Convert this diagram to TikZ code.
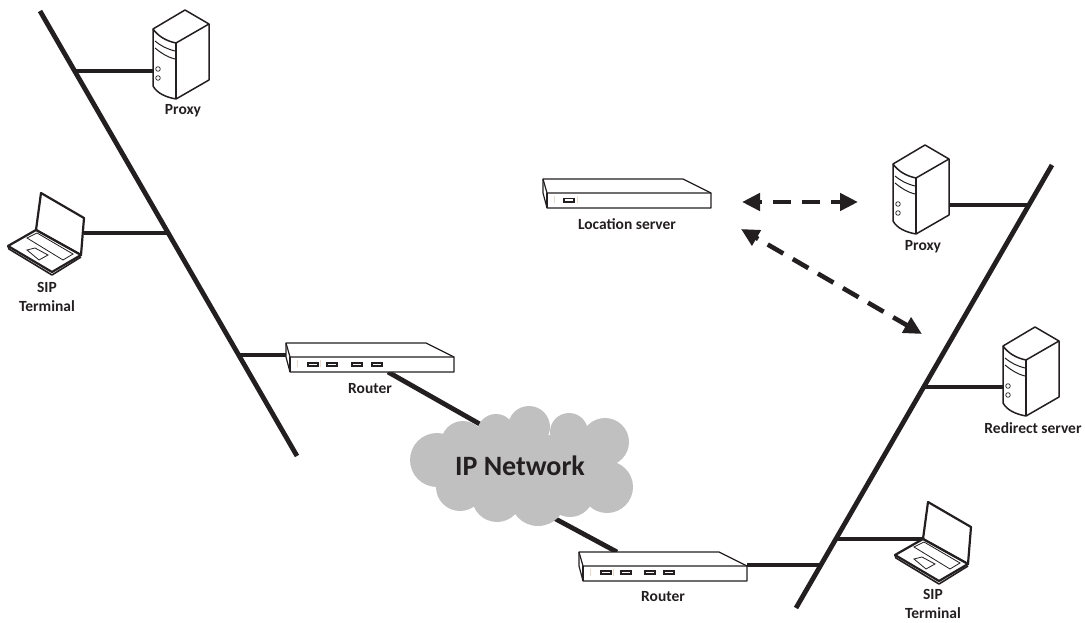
\documentclass[tikz,border=0pt]{standalone}
\usepackage{fontspec}
\setmainfont{Carlito}
\usetikzlibrary{arrows.meta}
\definecolor{ink}{HTML}{231F20}
\definecolor{cloudgray}{HTML}{C0C0C0}
\definecolor{tickpale}{HTML}{E8D8CC}
\tikzset{
  wire/.style={draw=ink,line width=4.8pt},
  link/.style={draw=ink,line width=4.6pt,dash pattern=on 18pt off 11pt,dash phase=15pt,{Triangle[length=18pt,width=17pt]}-{Triangle[length=18pt,width=17pt]}},
  tag/.style={font=\bfseries\fontsize{15.5}{19}\selectfont,text=ink,align=center,inner sep=0pt},
  server/.pic={
    \draw [ink,line width=1.5pt,line join=round,fill=white]
      (0,0) -- (32,-19) -- (56,-5) -- (56,51) -- (23,70)
      .. controls (12,68) and (4,64) .. (0,57) -- cycle;
    \draw [ink,line width=1.5pt] (0,0) .. controls (5,7) and (13,12) .. (23,14) -- (56,-5);
    \draw [ink,line width=1.5pt] (23,14) -- (23,70);
    \draw [ink,line width=1pt] (2,12) .. controls (8,17) and (14,20) .. (22,22);
    \draw [ink,line width=1pt] (2,19) .. controls (8,24) and (14,28) .. (22,30);
    \draw [ink,line width=.7pt] (5,40) circle [radius=2.3] (5,49) circle [radius=2.3];
  },
  laptop/.pic={
    \draw [ink,line width=2.2pt,line join=round,fill=white]
      (0,0) -- (5,-37) -- (48,-12) -- (45,25) -- cycle;
    \draw [ink,line width=2.2pt,line join=round,fill=white]
      (0,0) -- (-28,16) -- (16,42) -- (45,25) -- cycle;
    \draw [ink,line width=1.6pt,line join=round] (-28,16) -- (-27,19) -- (16,45) -- (45,27);
    \draw [ink,line width=.8pt] (-9,8) -- (1,3) -- (37,24) -- (27,30) -- cycle;
    \draw [ink,line width=.8pt] (-9,20) -- (-1,18) -- (12,25) -- (3,30) -- cycle;
  },
  rack/.pic={
    \draw [ink,line width=1.2pt,line join=round,fill=white]
      (0,0) -- (140,0) -- (168,14) -- (168,29) -- (4,29) -- (0,14) -- cycle;
    \draw [ink,line width=1.2pt] (0,0) -- (4,14) -- (168,14);
    \draw [ink,line width=1.2pt] (4,14) -- (4,29);
    \draw [tickpale,line width=.5pt] (11,17) -- (11,24) (34,17) -- (34,24);
  },
  port/.pic={
    \fill [ink] (0,0) rectangle (12,5);
    \fill [white] (2,1.5) rectangle (10,3.2);
  }
}
\begin{document}
\begin{tikzpicture}[x=1pt,y=-1pt]
  \useasboundingbox (0,0) rectangle (1085,623);

  % buses
  \coordinate (busLtop) at (40,11);
  \coordinate (busLend) at (297,456);
  \coordinate (busRtop) at (1052,165);
  \coordinate (busRend) at (796,608);
  \draw [wire] (busLtop) -- (busLend);
  \draw [wire] (busRtop) -- (busRend);

  % left side
  \coordinate (tapProxyL) at (75,71);
  \coordinate (proxyLport) at (154,71);
  \coordinate (tapLaptopL) at (167,233);
  \coordinate (laptopLport) at (84,233);
  \coordinate (tapRouterL) at (238,355);
  \coordinate (routerLport) at (287,355);
  \draw [wire] (tapProxyL) -- (proxyLport);
  \draw [wire] (tapLaptopL) -- (laptopLport);
  \draw [wire] (tapRouterL) -- (routerLport);

  % right side
  \coordinate (tapProxyR) at (1029,205);
  \coordinate (proxyRport) at (949,205);
  \coordinate (tapRedirect) at (925,387);
  \coordinate (redirectport) at (1004,387);
  \coordinate (tapLaptopR) at (837,539);
  \coordinate (laptopRport) at (923,539);
  \coordinate (tapRouterR) at (821,565);
  \coordinate (routerRport) at (747,565);
  \draw [wire] (tapProxyR) -- (proxyRport);
  \draw [wire] (tapRedirect) -- (redirectport);
  \draw [wire] (tapLaptopR) -- (laptopRport);
  \draw [wire] (tapRouterR) -- (routerRport);

  % routers to the cloud
  \coordinate (routerLout) at (388,372);
  \coordinate (cloudIn) at (485,427);
  \coordinate (cloudOut) at (552,517);
  \coordinate (routerRin) at (617,552);
  \draw [wire] (routerLout) -- (cloudIn);
  \draw [wire] (cloudOut) -- (routerRin);

  % cloud
  \fill [cloudgray] (437,460) circle [radius=27];
  \fill [cloudgray] (463,443) circle [radius=22];
  \fill [cloudgray] (496,433) circle [radius=19];
  \fill [cloudgray] (529,427) circle [radius=21];
  \fill [cloudgray] (569,432) circle [radius=19];
  \fill [cloudgray] (605,442) circle [radius=24];
  \fill [cloudgray] (607,487) circle [radius=26];
  \fill [cloudgray] (570,493) circle [radius=24];
  \fill [cloudgray] (538,498) circle [radius=28];
  \fill [cloudgray] (497,497) circle [radius=25];
  \fill [cloudgray] (460,487) circle [radius=24];
  \fill [cloudgray] (450,435) rectangle (610,495);
  \node (cloudtext) at (520,466) [font=\bfseries\fontsize{28}{32}\selectfont,text=ink,inner sep=0pt] {IP Network};

  % devices
  \pic at (153,29) {server};
  \pic at (893,164) {server};
  \pic at (1003,346) {server};
  \pic at (36,230) {laptop};
  \pic at (923,539) {laptop};
  \pic at (286,343) {rack};
  \pic at (579,552) {rack};
  \pic at (543,179) {rack};
  \foreach \px in {307,326,351,371} \pic at (\px,362) {port};
  \foreach \px in {600,620,644,663} \pic at (\px,570) {port};
  \pic at (563,198) {port};

  % labels
  \node (proxyLtag) at (183,111) [tag] {Proxy};
  \node (laptopLtag) at (47,297) [tag] {SIP\\Terminal};
  \node (routerLtag) at (370,389) [tag] {Router};
  \node (locationtag) at (627,224) [tag] {Location server};
  \node (proxyRtag) at (923,247) [tag] {Proxy};
  \node (redirecttag) at (1033,428) [tag] {Redirect server};
  \node (routerRtag) at (663,597) [tag] {Router};
  \node (laptopRtag) at (933,604) [tag] {SIP\\Terminal};

  % location server links
  \coordinate (locA) at (742,202);
  \coordinate (proxyRlink) at (858,202);
  \coordinate (locB) at (741,229);
  \coordinate (redirectlink) at (922,334);
  \draw [link] (locA) -- (proxyRlink);
  \draw [link] (locB) -- (redirectlink);
\end{tikzpicture}
\end{document}
